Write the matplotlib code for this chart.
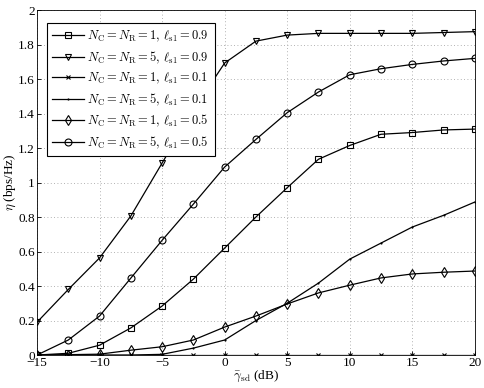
import matplotlib
matplotlib.use("Agg")
import matplotlib.pyplot as plt
import numpy as np

plt.rcParams['font.family'] = ['Liberation Serif', 'DejaVu Serif']
plt.rcParams['mathtext.fontset'] = 'cm'

snr_db = [-15, -12.5, -10, -7.5, -5, -2.5, 0, 2.5, 5, 7.5, 10, 12.5, 15, 17.5, 20]
eta_n1_l09 = [0.0, 0.01, 0.057, 0.157, 0.284, 0.44, 0.62, 0.80, 0.97, 1.135, 1.215, 1.28, 1.29, 1.305, 1.31]
eta_n5_l09 = [0.19, 0.38, 0.563, 0.806, 1.113, 1.42, 1.693, 1.82, 1.855, 1.865, 1.865, 1.865, 1.865, 1.87, 1.875]
eta_n1_l01 = [0.0] * 15
eta_n5_l01 = [0.0, 0.0, 0.0, 0.0, 0.004, 0.04, 0.087, 0.20, 0.30, 0.417, 0.556, 0.649, 0.742, 0.81, 0.887]
eta_n1_l05 = [0.0, 0.002, 0.005, 0.028, 0.048, 0.087, 0.162, 0.226, 0.296, 0.36, 0.405, 0.447, 0.47, 0.48, 0.487]
eta_n5_l05 = [0.0, 0.087, 0.226, 0.446, 0.665, 0.875, 1.09, 1.25, 1.405, 1.525, 1.625, 1.66, 1.685, 1.705, 1.72]

labels = [
    r'$N_{\rm C}=N_{\rm R}=1,\,\ell_{\rm s1}=0.9$',
    r'$N_{\rm C}=N_{\rm R}=5,\,\ell_{\rm s1}=0.9$',
    r'$N_{\rm C}=N_{\rm R}=1,\,\ell_{\rm s1}=0.1$',
    r'$N_{\rm C}=N_{\rm R}=5,\,\ell_{\rm s1}=0.1$',
    r'$N_{\rm C}=N_{\rm R}=1,\,\ell_{\rm s1}=0.5$',
    r'$N_{\rm C}=N_{\rm R}=5,\,\ell_{\rm s1}=0.5$',
]
series = [eta_n1_l09, eta_n5_l09, eta_n1_l01, eta_n5_l01, eta_n1_l05, eta_n5_l05]
markers = ['s', 'v', 'x', '.', 'd', 'o']
msizes = [4.5, 5, 3.5, 1.5, 5, 5]

fig = plt.figure(figsize=(4.85, 3.88), dpi=100)
ax = fig.add_axes([0.0763, 0.085, 0.9027, 0.889])

for y, m, ms, lab in zip(series, markers, msizes, labels):
    ax.plot(snr_db, y, color='black', linewidth=0.9, marker=m, markersize=ms,
            markerfacecolor='none', markeredgecolor='black', markeredgewidth=0.8,
            label=lab)

ax.set_xlim(-15, 20)
ax.set_ylim(0, 2)
ax.set_xticks([-15, -10, -5, 0, 5, 10, 15, 20])
ax.set_yticks([0, 0.2, 0.4, 0.6, 0.8, 1, 1.2, 1.4, 1.6, 1.8, 2])
ax.set_yticklabels(['0', '0.2', '0.4', '0.6', '0.8', '1', '1.2', '1.4', '1.6', '1.8', '2'])
ax.set_xticklabels(['\u221215', '\u221210', '\u22125', '0', '5', '10', '15', '20'])
ax.tick_params(direction='in', length=3, labelsize=9.5, pad=1.5, width=0.6)
ax.grid(True, linestyle=(0, (1, 3)), color='#999999', linewidth=0.6)
for s in ax.spines.values():
    s.set_linewidth(0.6)

ax.set_xlabel(r'$\bar{\gamma}_{\rm sd}$ (dB)', fontsize=9.5, labelpad=0)
ax.set_ylabel(r'$\eta$ (bps/Hz)', fontsize=9.5, labelpad=0)

leg = ax.legend(loc='upper left', bbox_to_anchor=(0.022, 0.962), fontsize=9,
                fancybox=False, edgecolor='black', framealpha=1, handlelength=2.5,
                borderpad=0.45, labelspacing=0.42, handletextpad=0.3, borderaxespad=0)
leg.get_frame().set_linewidth(0.8)

fig.savefig('out.png', dpi=100)
